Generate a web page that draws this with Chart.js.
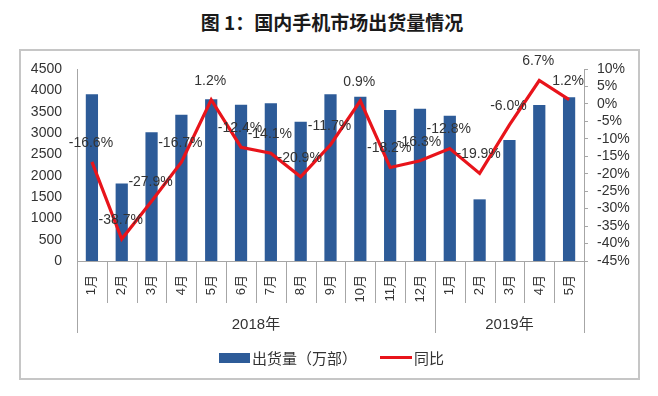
<!DOCTYPE html>
<html>
<head>
<meta charset="utf-8">
<script src="https://cdn.jsdelivr.net/npm/chart.js@4.4.1/dist/chart.umd.min.js"></script>
<style>
    body { margin: 0; background: #fff; }
    #wrap { position: relative; width: 658px; height: 396px; overflow: hidden; }
    #title {
        position: absolute; left: 0; width: 664px; top: 9px; text-align: center;
        font: bold 19px "Noto Sans CJK SC", sans-serif; color: #1a1a1a; line-height: 26px;
    }
    #frame {
        position: absolute; left: 19px; top: 49px; width: 617px; height: 327px;
        border: 2px solid #c6c6c6;
    }
    #chart { position: absolute; left: 0; top: 0; }
    .legend {
        position: absolute; top: 346px; font: 15px "Noto Sans CJK SC", sans-serif;
        color: #333; line-height: 20px;
    }
    .legend span { display: inline-block; vertical-align: middle; }
</style>
</head>
<body>
<div id="wrap">
    <div id="title">图 1：国内手机市场出货量情况</div>
    <div id="frame"></div>
    <canvas id="chart" width="658" height="396"></canvas>
    <div class="legend" style="left:219px">
        <span style="width:31px;height:10px;background:#2d5b98;margin-right:2px"></span><span>出货量（万部）</span>
    </div>
    <div class="legend" style="left:380px">
        <span style="width:32px;height:3px;background:#e8141b;margin-right:2px"></span><span>同比</span>
    </div>
</div>

<script>
// DATA
var months = ["1月", "2月", "3月", "4月", "5月", "6月", "7月", "8月", "9月", "10月", "11月", "12月",
    "1月", "2月", "3月", "4月", "5月"];
var years = ["2018年", "2019年"];
var yearSpans = [12, 5];
var shipments = [3910, 1815, 3020, 3430, 3790, 3665, 3695, 3265, 3910, 3850, 3540, 3570,
    3405, 1445, 2835, 3655, 3835];
var yoy = [-16.6, -38.7, -27.9, -16.7, 1.2, -12.4, -14.1, -20.9, -11.7, 0.9, -18.2, -16.3,
    -12.8, -19.9, -6.0, 6.7, 1.2];
var leftTicks = [0, 4500, 500];
var rightTicks = [-45, 10, 5];

var axisColor = "#a6a6a6";
var tickFont = { family: "'Liberation Sans', 'Noto Sans CJK SC', sans-serif", size: 14 };

// LINE VALUE LABELS
var pointLabels = {
    id: "pointLabels",
    afterDatasetsDraw: function (chart) {
        var ctx = chart.ctx;
        var meta = chart.getDatasetMeta(1);
        ctx.save();
        ctx.font = "14px 'Liberation Sans', sans-serif";
        ctx.fillStyle = "#333";
        ctx.textAlign = "center";
        ctx.textBaseline = "middle";
        meta.data.forEach(function (pt, i) {
            ctx.fillText(yoy[i].toFixed(1) + "%", pt.x - 1, pt.y - 19);
        });
        ctx.restore();
    }
};

// CATEGORY / YEAR SEPARATORS UNDER THE AXIS
var groupAxis = {
    id: "groupAxis",
    afterDraw: function (chart) {
        var ctx = chart.ctx;
        var area = chart.chartArea;
        var step = (area.right - area.left) / months.length;
        ctx.save();
        ctx.strokeStyle = axisColor;
        ctx.lineWidth = 1;
        var yearEdges = [0];
        var acc = 0;
        yearSpans.forEach(function (n) { acc += n; yearEdges.push(acc); });
        for (var i = 0; i <= months.length; i++) {
            var px = Math.round(area.left + i * step) + 0.5;
            var len = yearEdges.indexOf(i) >= 0 ? 72 : 42;
            ctx.beginPath();
            ctx.moveTo(px, area.bottom);
            ctx.lineTo(px, area.bottom + len);
            ctx.stroke();
        }
        ctx.fillStyle = "#333";
        ctx.font = "15px 'Liberation Sans', 'Noto Sans CJK SC', sans-serif";
        ctx.textAlign = "center";
        ctx.textBaseline = "middle";
        years.forEach(function (label, k) {
            var cx = area.left + (yearEdges[k] + yearEdges[k + 1]) / 2 * step;
            ctx.fillText(label, cx, area.bottom + 64);
        });
        ctx.restore();
    }
};

var chart = new Chart(document.getElementById("chart"), {
    data: {
        labels: months,
        datasets: [
            {
                type: "bar",
                label: "出货量（万部）",
                data: shipments,
                backgroundColor: "#2d5b98",
                barPercentage: 0.41,
                categoryPercentage: 1,
                yAxisID: "y",
                order: 2,
            },
            {
                type: "line",
                label: "同比",
                data: yoy,
                borderColor: "#e8141b",
                borderWidth: 3.2,
                pointRadius: 0,
                tension: 0,
                yAxisID: "y1",
                order: 1,
            },
        ],
    },
    plugins: [pointLabels, groupAxis],
    options: {
        responsive: false,
        animation: false,
        layout: { padding: { top: 69, left: 0, right: 0, bottom: 0 } },
        plugins: {
            legend: { display: false },
            tooltip: { enabled: false },
        },
        scales: {
            x: {
                grid: { display: false, drawTicks: false },
                border: { display: true, color: axisColor },
                ticks: {
                    color: "#333",
                    font: { family: tickFont.family, size: 13 },
                    minRotation: 90,
                    maxRotation: 90,
                    autoSkip: false,
                    padding: 14,
                },
                afterFit: function (s) { s.height = 135; },
            },
            y: {
                position: "left",
                min: leftTicks[0],
                max: leftTicks[1],
                grid: { display: false, drawTicks: false },
                border: { display: true, color: axisColor },
                ticks: {
                    stepSize: leftTicks[2],
                    autoSkip: false,
                    color: "#333",
                    font: tickFont,
                    padding: 15,
                    callback: function (v) { return String(v); },
                },
                afterFit: function (s) { s.width = 77; },
            },
            y1: {
                position: "right",
                min: rightTicks[0],
                max: rightTicks[1],
                grid: { display: true, drawOnChartArea: false, drawTicks: true, tickLength: 4, color: axisColor },
                border: { display: true, color: axisColor },
                ticks: {
                    stepSize: rightTicks[2],
                    autoSkip: false,
                    color: "#333",
                    font: tickFont,
                    padding: 9,
                    callback: function (v) { return v + "%"; },
                },
                afterFit: function (s) { s.width = 74; },
            },
        },
    },
});
</script>
</body>
</html>
